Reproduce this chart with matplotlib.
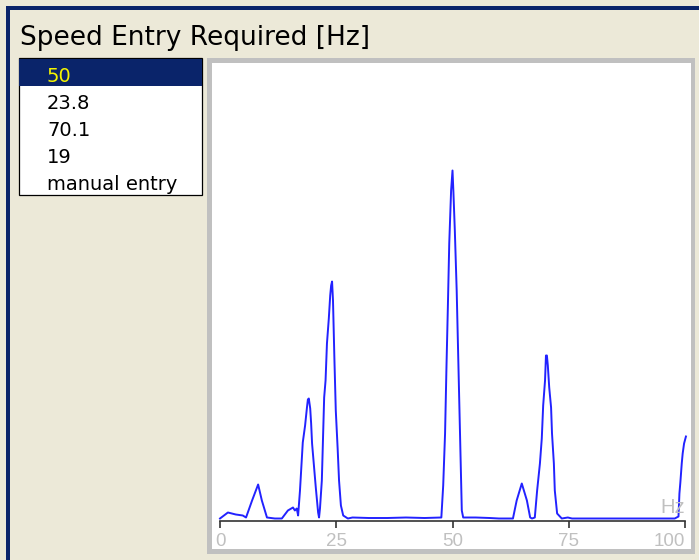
import matplotlib.pyplot as plt
from matplotlib.patches import Rectangle

# spectrum (Hz, amplitude in screen units)
freq_hz = [0.0, 1.7, 3.4, 4.9, 5.6, 6.9, 8.2, 9.0, 10.1, 11.8, 13.3, 14.6, 15.7, 16.1, 16.5, 16.8,
           17.2, 17.6, 17.8, 18.3, 18.7, 18.9, 19.1, 19.4, 19.6, 19.8, 20.2, 20.6, 21.1, 21.3, 21.5,
           21.9, 22.2, 22.4, 22.7, 23.0, 23.4, 23.7, 23.9, 24.1, 24.3, 24.6, 24.9, 25.3, 25.6, 26.0,
           26.5, 27.5, 28.5, 32.0, 36.0, 40.0, 44.0, 47.6, 48.0, 48.4, 48.7, 49.0, 49.3, 49.7, 50.0,
           50.2, 50.5, 50.9, 51.2, 51.5, 51.8, 52.0, 52.3, 53.3, 55.0, 58.0, 60.0, 63.0, 63.8, 64.9,
           66.0, 66.7, 67.1, 67.7, 68.2, 68.8, 69.2, 69.5, 69.9, 70.1, 70.3, 70.5, 70.8, 71.2, 71.4,
           71.8, 72.0, 72.5, 73.5, 74.8, 75.7, 80.0, 85.0, 90.0, 95.0, 97.8, 98.6, 98.8, 99.0, 99.3,
           99.5, 99.8, 100.2]
amplitude = [0, 6, 4, 3, 1, 18, 34, 18, 1, 0, 0, 8, 11, 8, 10, 3,
             28, 60, 76, 93, 111, 119, 120, 110, 95, 75, 53, 31, 6, 1, 10,
             38, 88, 121, 138, 175, 200, 223, 233, 237, 218, 160, 108, 70, 38, 13,
             3, 0, 1, 0.5, 0.5, 1, 0.5, 1, 33, 85, 151, 211, 275, 328, 348,
             326, 288, 228, 168, 108, 48, 8, 1, 1, 1, 0.5, 0, 0, 18, 35,
             18, 1, 0, 1, 28, 55, 80, 113, 138, 163, 163, 153, 131, 111, 85,
             55, 28, 5, 0, 1, 0, 0, 0, 0, 0, 0, 2, 25, 36, 55,
             65, 75, 82]

speed_options = ["50", "23.8", "70.1", "19", "manual entry"]
selected = 0
tick_hz = [0, 25, 50, 75, 100]
tick_labels = ["0", "25", "50", "75", "100"]

W, H = 699, 560
BEIGE = "#ECE9D8"
NAVY = "#0A246A"
GREY = "#C0C0C0"


def fx(px):
    return px / W


def fy(py):
    return 1 - py / H


def box(x0, y0, x1, y1, **kw):
    # rectangle given in screen pixels (top-left origin), kept behind the axes
    fig.patches.append(Rectangle((fx(x0), fy(y1)), fx(x1) - fx(x0), fy(y0) - fy(y1),
                                 transform=fig.transFigure, figure=fig, zorder=-1, **kw))


fig = plt.figure(figsize=(W / 100, H / 100), dpi=100, facecolor=BEIGE)

# window frame
box(6, 6, W, 10, facecolor=NAVY, edgecolor="none")
box(6, 6, 10, H, facecolor=NAVY, edgecolor="none")

fig.text(fx(20), fy(45), "Speed Entry Required [Hz]", fontsize=19, color="black",
         family="DejaVu Sans", va="baseline", ha="left")

# list box
box(18.5, 58, 202, 194.5, facecolor="white", edgecolor="black", linewidth=0.9)
row_h = 27.2
box(19, 59, 201.5, 59 + row_h, facecolor=NAVY, edgecolor="none")
for i, opt in enumerate(speed_options):
    col = "#F5F500" if i == selected else "black"
    fig.text(fx(47), fy(81.5 + i * row_h), opt, fontsize=14, color=col,
             family="DejaVu Sans", va="baseline", ha="left")

# chart panel with grey border
box(207, 58, 695, 554, facecolor=GREY, edgecolor="none")
ax = fig.add_axes([fx(212), fy(549), fx(691) - fx(212), fy(63) - fy(549)])
ax.set_facecolor("white")

ax.plot(freq_hz, amplitude, color="#2222ff", linewidth=1.4)

# pixel mapping: 0 Hz at x=220, 4.65 px per Hz, baseline at y=518.5
ax.set_xlim((212 - 220) / 4.65, (691 - 220) / 4.65)
ax.set_ylim(518.5 - 549, 518.5 - 63)

for s in ["top", "right", "left"]:
    ax.spines[s].set_visible(False)
ax.spines["bottom"].set_position(("data", -2))
ax.spines["bottom"].set_bounds(0, 100)
ax.spines["bottom"].set_color("#333333")
ax.spines["bottom"].set_linewidth(1.2)
ax.set_yticks([])
ax.set_xticks(tick_hz)
ax.set_xticklabels(tick_labels, family="Liberation Sans", fontsize=13.5, color=GREY)
ax.tick_params(axis="x", direction="out", length=5, width=1.2, color="#333333", pad=4)
ax.get_xticklabels()[-1].set_ha("right")

ax.text(99.9, 518.5 - 513, "Hz", fontsize=14.5, color=GREY, family="Liberation Sans",
        ha="right", va="baseline")

fig.savefig("out.png", dpi=100, facecolor=BEIGE)
